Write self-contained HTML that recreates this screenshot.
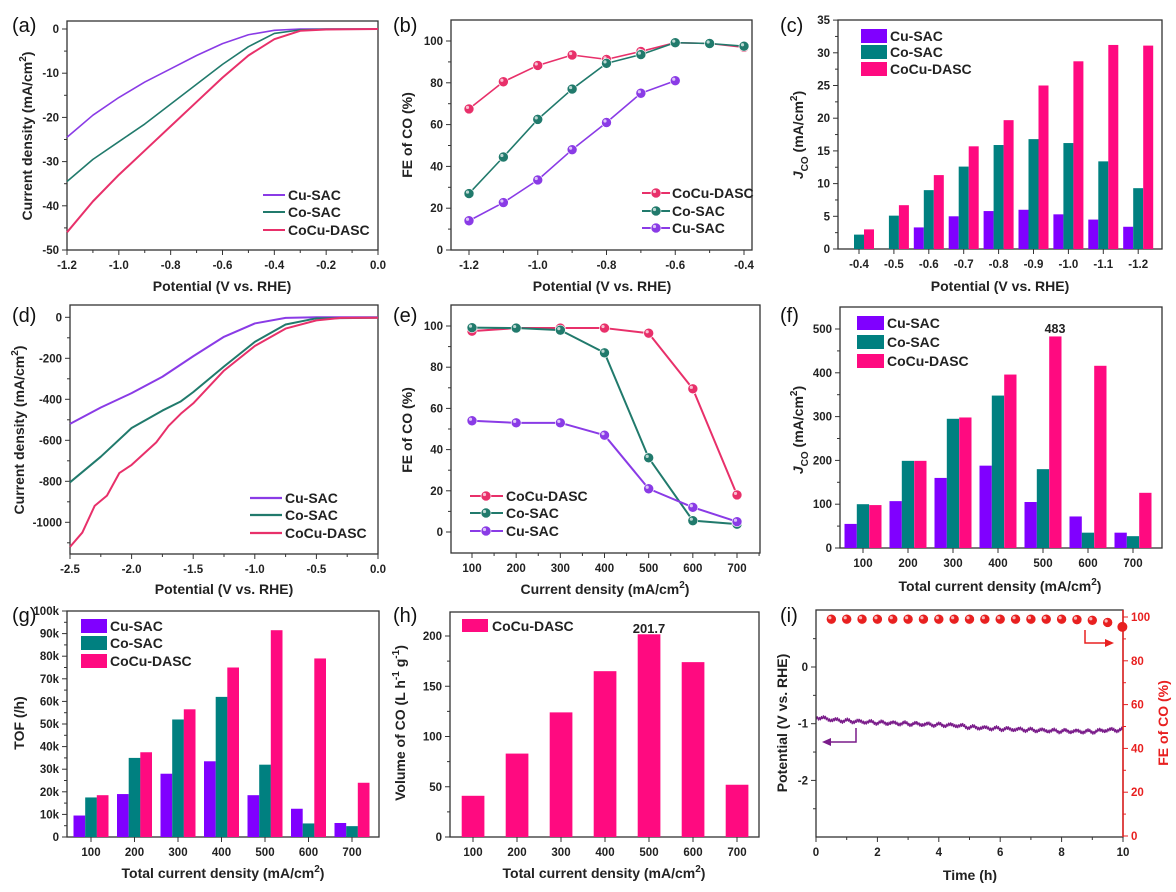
<!DOCTYPE html>
<html><head><meta charset="utf-8"><style>
body{margin:0;background:#fff}
svg{display:block}
.t{font:bold 11.5px "Liberation Sans",sans-serif;fill:#222}
.at{font:bold 14px "Liberation Sans",sans-serif;fill:#222}
.lg{font:bold 14px "Liberation Sans",sans-serif;fill:#222}
.pl{font:20px "Liberation Sans",sans-serif;fill:#111}
</style></head><body>
<svg id="s" xmlns="http://www.w3.org/2000/svg" width="1176" height="892" viewBox="0 0 1176 892"></svg>
<script>
const NS="http://www.w3.org/2000/svg";const S=document.getElementById('s');
function E(t,a,txt,p){const e=document.createElementNS(NS,t);for(const k in a)e.setAttribute(k,a[k]);if(txt!=null)e.textContent=txt;(p||S).appendChild(e);return e;}
const PU='#8a3be6',TE='#217a6c',PK='#e8306a';
const BPU='#8000ff',BTE='#008080',BPK='#ff0a80';
function frame(x0,y0,x1,y1){E('rect',{x:x0,y:y0,width:x1-x0,height:y1-y0,fill:'none',stroke:'#333','stroke-width':1.3});}
function xt(x,y,l,maj){E('line',{x1:x,y1:y,x2:x,y2:y+(maj?5:3),stroke:'#333'});if(l!=null)E('text',{x:x,y:y+19,'text-anchor':'middle',class:'t'},l);}
function yt(x,y,l,maj,col){E('line',{x1:x,y1:y,x2:x-(maj?5:3),y2:y,stroke:col||'#333'});if(l!=null)E('text',{x:x-8,y:y+4,'text-anchor':'end',class:'t',style:col?'fill:'+col:''},l);}
function ytR(x,y,l,maj,col){E('line',{x1:x,y1:y,x2:x+(maj?5:3),y2:y,stroke:col});if(l!=null)E('text',{x:x+8,y:y+4,class:'t',style:'fill:'+col},l);}
function xtitle(x,y,txt,sup){const t=E('text',{x:x,y:y,'text-anchor':'middle',class:'at'},txt);if(sup){E('tspan',{dy:-6,'font-size':10},'2',t);E('tspan',{dy:6},')',t);}}
function ytitle(x,y,parts,col){const t=E('text',{transform:`translate(${x},${y}) rotate(-90)`,'text-anchor':'middle',class:'at',style:col?'fill:'+col:''});parts.forEach(p=>{const a={};if(p.dy)a.dy=p.dy;if(p.fs)a['font-size']=p.fs;if(p.it)a['font-style']='italic';E('tspan',a,p.s,t);});}
function line(pts,col,w){E('polyline',{points:pts.map(p=>p.join(',')).join(' '),fill:'none',stroke:col,'stroke-width':w||1.6,'stroke-linejoin':'round'});}
function dots(pts,col){pts.forEach(p=>{E('circle',{cx:p[0],cy:p[1],r:5,fill:col,stroke:'#fff','stroke-width':0.6});E('circle',{cx:p[0]-1.5,cy:p[1]-1.5,r:1.6,fill:'#fff',opacity:0.7});});}
function lab(x,y,s){E('text',{x:x,y:y,class:'pl'},s);}
const JCO=[{s:'J',it:1},{s:'CO',fs:10,dy:5},{s:' (mA/cm',dy:-5},{s:'2',fs:10,dy:-6},{s:')',dy:6}];
const CD=[{s:'Current density (mA/cm'},{s:'2',fs:10,dy:-6},{s:')',dy:6}];

/* (a) */
lab(12,32,'(a)');frame(67,21,378,250);
{const X=p=>378+p*259.17,Y=v=>29-v*4.42;
[-1.2,-1.0,-0.8,-0.6,-0.4,-0.2,0].forEach(p=>xt(X(p),250,p.toFixed(1),1));
[-1.1,-0.9,-0.7,-0.5,-0.3,-0.1].forEach(p=>xt(X(p),250,null,0));
for(let v=0;v>=-50;v-=10)yt(67,Y(v),''+v,1);for(let v=-5;v>-50;v-=10)yt(67,Y(v),null,0);
xtitle(222,291,'Potential (V vs. RHE)');ytitle(32,136,CD);
const xs=[-1.2,-1.1,-1.0,-0.9,-0.8,-0.7,-0.6,-0.5,-0.4,-0.3,-0.2,0];
const cu=[-24.5,-19.5,-15.5,-12,-9,-6,-3.3,-1.3,-0.3,0,0,0],co=[-34.5,-29.5,-25.5,-21.5,-17,-12.5,-8,-4,-1,-0.2,0,0],cc=[-46,-39,-33,-27.5,-22,-16.5,-11,-6,-2.3,-0.4,-0.1,0];
line(xs.map((p,i)=>[X(p),Y(cu[i])]),PU);line(xs.map((p,i)=>[X(p),Y(co[i])]),TE);line(xs.map((p,i)=>[X(p),Y(cc[i])]),PK,2);
[['Cu-SAC',PU,195],['Co-SAC',TE,212],['CoCu-DASC',PK,230]].forEach(r=>{E('line',{x1:263,y1:r[2],x2:285,y2:r[2],stroke:r[1],'stroke-width':2});E('text',{x:288,y:r[2]+5,class:'lg'},r[0]);});}

/* (b) */
lab(393,32,'(b)');frame(451,20,752,250);
{const X=p=>469+(p+1.2)*343.75,Y=v=>250-v*2.09;
[-1.2,-1.0,-0.8,-0.6,-0.4].forEach(p=>xt(X(p),250,p.toFixed(1),1));[-1.1,-0.9,-0.7,-0.5].forEach(p=>xt(X(p),250,null,0));
for(let v=0;v<=100;v+=20)yt(451,Y(v),''+v,1);for(let v=10;v<=100;v+=20)yt(451,Y(v),null,0);
xtitle(602,291,'Potential (V vs. RHE)');ytitle(412,135,[{s:'FE of CO (%)'}]);
const xs=[-1.2,-1.1,-1.0,-0.9,-0.8,-0.7,-0.6,-0.5,-0.4];
const cc=[67.5,80.5,88.3,93.3,91.2,95,99.2,98.8,97],co=[27,44.5,62.5,77,89.3,93.5,99.2,98.8,97.5],cu=[14,22.7,33.5,48,61,75,81];
[[cc,PK],[co,TE],[cu,PU]].forEach(s=>{const pts=s[0].map((v,i)=>[X(xs[i]),Y(v)]);line(pts,s[1]);dots(pts,s[1]);});
[['CoCu-DASC',PK,193],['Co-SAC',TE,211],['Cu-SAC',PU,228]].forEach(r=>{E('line',{x1:642,y1:r[2],x2:670,y2:r[2],stroke:r[1],'stroke-width':2});dots([[656,r[2]]],r[1]);E('text',{x:672,y:r[2]+5,class:'lg'},r[0]);});}

/* (c) */
lab(780,32,'(c)');frame(838,20,1162,249);
{const Y=v=>249-v*6.54,C=i=>859+i*34.9;
const L=['-0.4','-0.5','-0.6','-0.7','-0.8','-0.9','-1.0','-1.1','-1.2'];
const cu=[0,0,3.3,5,5.8,6,5.3,4.5,3.4],co=[2.2,5.1,9,12.6,15.9,16.8,16.2,13.4,9.3],cc=[3,6.7,11.3,15.7,19.7,25,28.7,31.2,31.1];
L.forEach((l,i)=>{const c=C(i);xt(c,249,l,1);
[[cu,BPU,-15],[co,BTE,-5],[cc,BPK,5]].forEach(s=>{if(s[0][i]>0)E('rect',{x:c+s[2],y:Y(s[0][i]),width:10,height:249-Y(s[0][i]),fill:s[1]});});});
for(let v=0;v<=35;v+=5)yt(838,Y(v),''+v,1);for(let v=2.5;v<35;v+=5)yt(838,Y(v),null,0);
xtitle(1000,291,'Potential (V vs. RHE)');ytitle(803,135,JCO);
[['Cu-SAC',BPU,36],['Co-SAC',BTE,52],['CoCu-DASC',BPK,69]].forEach(r=>{E('rect',{x:861,y:r[2]-7,width:26,height:14,fill:r[1]});E('text',{x:890,y:r[2]+5,class:'lg'},r[0]);});}

/* (d) */
lab(12,322,'(d)');frame(70,305,378,554);
{const X=p=>70+(p+2.5)*123.2,Y=v=>317.3-v*0.205;
[-2.5,-2.0,-1.5,-1.0,-0.5,0].forEach(p=>xt(X(p),554,p.toFixed(1),1));[-2.25,-1.75,-1.25,-0.75,-0.25].forEach(p=>xt(X(p),554,null,0));
for(let v=0;v>=-1000;v-=200)yt(70,Y(v),''+v,1);for(let v=-100;v>-1150;v-=200)yt(70,Y(v),null,0);
xtitle(224,594,'Potential (V vs. RHE)');ytitle(24,430,CD);
line([[-2.5,-520],[-2.25,-440],[-2.0,-370],[-1.75,-290],[-1.5,-190],[-1.25,-95],[-1.0,-30],[-0.75,-3],[-0.5,0],[0,0]].map(p=>[X(p[0]),Y(p[1])]),PU,2);
line([[-2.5,-805],[-2.25,-680],[-2.0,-540],[-1.75,-455],[-1.6,-410],[-1.5,-365],[-1.25,-240],[-1.0,-120],[-0.75,-35],[-0.5,-5],[0,-2]].map(p=>[X(p[0]),Y(p[1])]),TE,2);
line([[-2.5,-1120],[-2.4,-1050],[-2.3,-920],[-2.2,-870],[-2.1,-760],[-2.0,-720],[-1.8,-610],[-1.7,-530],[-1.6,-470],[-1.5,-420],[-1.25,-260],[-1.0,-140],[-0.75,-55],[-0.5,-15],[-0.3,-3],[0,-2]].map(p=>[X(p[0]),Y(p[1])]),PK,2);
[['Cu-SAC',PU,498],['Co-SAC',TE,515],['CoCu-DASC',PK,533]].forEach(r=>{E('line',{x1:250,y1:r[2],x2:282,y2:r[2],stroke:r[1],'stroke-width':2.2});E('text',{x:285,y:r[2]+5,class:'lg'},r[0]);});}

/* (e) */
lab(393,322,'(e)');frame(451,305,760,553);
{const X=c=>472+(c-100)*0.44167,Y=v=>532-v*2.06;const xs=[100,200,300,400,500,600,700];
xs.forEach(c=>xt(X(c),553,''+c,1));[150,250,350,450,550,650,750].forEach(c=>{if(X(c)>451&&X(c)<760)xt(X(c),553,null,0);});
for(let v=0;v<=100;v+=20)yt(451,Y(v),''+v,1);for(let v=10;v<=100;v+=20)yt(451,Y(v),null,0);
const t=E('text',{x:605,y:594,'text-anchor':'middle',class:'at'},'Current density (mA/cm');E('tspan',{dy:-6,'font-size':10},'2',t);E('tspan',{dy:6},')',t);
ytitle(412,430,[{s:'FE of CO (%)'}]);
const cc=[97.5,99,99,99,96.5,69.5,18],co=[99.2,99,98,87,36,5.5,3.8],cu=[54,53,53,47,21,12,5];
[[cc,PK],[co,TE],[cu,PU]].forEach(s=>{const pts=s[0].map((v,i)=>[X(xs[i]),Y(v)]);line(pts,s[1],2);dots(pts,s[1]);});
[['CoCu-DASC',PK,496],['Co-SAC',TE,513],['Cu-SAC',PU,531]].forEach(r=>{E('line',{x1:470,y1:r[2],x2:503,y2:r[2],stroke:r[1],'stroke-width':2});dots([[486,r[2]]],r[1]);E('text',{x:506,y:r[2]+5,class:'lg'},r[0]);});}

/* (f) */
lab(780,322,'(f)');frame(840,307,1162,548);
{const Y=v=>548-v*0.438,C=i=>863+i*45;
const cu=[55,107,160,188,105,72,35],co=[100,199,295,348,180,35,27],cc=[98,199,298,396,483,416,126];
for(let i=0;i<7;i++){const c=C(i);xt(c,548,''+(100*(i+1)),1);
[[cu,BPU,-18.5],[co,BTE,-6.2],[cc,BPK,6.2]].forEach(s=>E('rect',{x:c+s[2],y:Y(s[0][i]),width:12.3,height:548-Y(s[0][i]),fill:s[1]}));}
E('text',{x:C(4)+12,y:333,'text-anchor':'middle',class:'t',style:'font-size:12.5px'},'483');
for(let v=0;v<=500;v+=100)yt(840,Y(v),''+v,1);for(let v=50;v<550;v+=100)yt(840,Y(v),null,0);
xtitle(1000,591,'Total current density (mA/cm',1);ytitle(803,430,JCO);
[['Cu-SAC',BPU,323],['Co-SAC',BTE,342],['CoCu-DASC',BPK,361]].forEach(r=>{E('rect',{x:857,y:r[2]-7,width:27,height:14,fill:r[1]});E('text',{x:887,y:r[2]+5,class:'lg'},r[0]);});}

/* (g) */
lab(12,622,'(g)');frame(67,611,379,837);
{const Y=v=>837-v*2.26,C=i=>91+i*43.5;
const cu=[9.5,19,28,33.5,18.5,12.5,6.2],co=[17.5,35,52,62,32,6,4.8],cc=[18.5,37.5,56.5,75,91.5,79,24];
for(let i=0;i<7;i++){const c=C(i);xt(c,837,''+(100*(i+1)),1);
[[cu,BPU,-17.5],[co,BTE,-5.8],[cc,BPK,5.8]].forEach(s=>E('rect',{x:c+s[2],y:Y(s[0][i]),width:11.7,height:837-Y(s[0][i]),fill:s[1]}));}
for(let v=0;v<=100;v+=10)yt(67,Y(v),v?v+'k':'0',1);for(let v=5;v<100;v+=10)yt(67,Y(v),null,0);
xtitle(223,878,'Total current density (mA/cm',1);ytitle(24,723,[{s:'TOF (/h)'}]);
[['Cu-SAC',BPU,626],['Co-SAC',BTE,643],['CoCu-DASC',BPK,661]].forEach(r=>{E('rect',{x:81,y:r[2]-7,width:26,height:14,fill:r[1]});E('text',{x:110,y:r[2]+5,class:'lg'},r[0]);});}

/* (h) */
lab(393,622,'(h)');frame(450,612,759,837);
{const Y=v=>837-v*1.005,C=i=>473+i*44;const d=[41,83,124,165,201.7,174,52];
d.forEach((v,i)=>{xt(C(i),837,''+(100*(i+1)),1);E('rect',{x:C(i)-11.3,y:Y(v),width:22.7,height:837-Y(v),fill:BPK});});
E('text',{x:C(4),y:633,'text-anchor':'middle',class:'t',style:'font-size:13px'},'201.7');
for(let v=0;v<=200;v+=50)yt(450,Y(v),''+v,1);for(let v=25;v<225;v+=50)yt(450,Y(v),null,0);
xtitle(604,878,'Total current density (mA/cm',1);
ytitle(405,723,[{s:'Volume of CO (L h'},{s:'-1',fs:10,dy:-6},{s:' g',dy:6},{s:'-1',fs:10,dy:-6},{s:')',dy:6}]);
E('rect',{x:462,y:619,width:26,height:13,fill:BPK});E('text',{x:492,y:631,class:'lg'},'CoCu-DASC');}

/* (i) */
lab(780,622,'(i)');
{const X=t=>816+t*30.7,YL=v=>667-v*56.7,YR=v=>836-v*2.19,RED='#e82020';
for(let t=0;t<=10;t+=2)xt(X(t),837,''+t,1);for(let t=1;t<10;t+=2)xt(X(t),837,null,0);
[0,-1,-2].forEach(v=>yt(816,YL(v),''+v,1));[0.5,-0.5,-1.5,-2.5].forEach(v=>yt(816,YL(v),null,0));
for(let v=0;v<=100;v+=20)ytR(1123,YR(v),''+v,1,RED);for(let v=10;v<100;v+=20)ytR(1123,YR(v),null,0,RED);
let pts=[];const base=[[0,-0.88],[0.5,-0.93],[1,-0.95],[2,-0.98],[3,-1.0],[4,-1.02],[4.6,-1.03],[5,-1.06],[6,-1.09],[7,-1.11],[8,-1.13],[9,-1.14],[9.5,-1.11],[10,-1.11]];
for(let t=0;t<=10;t+=0.02){let k=0;while(k<base.length-2&&base[k+1][0]<t)k++;const a=base[k],b=base[k+1];const v=a[1]+(b[1]-a[1])*(t-a[0])/(b[0]-a[0]);pts.push([X(t).toFixed(1),(YL(v)+(Math.sin(t*97)*1.6+Math.sin(t*331)*1.2)).toFixed(1)]);}
line(pts,'#7a1c8a',1.3);
E('rect',{x:816,y:610,width:307,height:227,fill:'none',stroke:'#333','stroke-width':1.3});
E('line',{x1:1123,y1:610,x2:1123,y2:837,stroke:RED,'stroke-width':1.5});
const fe=[99,99,99,99,99,99,99,99,99,99,99,99,99,99,99,99,98.8,98.5,97.5,96.5];
fe.forEach((v,i)=>{const t=0.5+i*0.5;if(t<10)dots([[X(t),YR(v)]],RED);});
E('circle',{cx:X(9.98),cy:YR(95.5),r:5,fill:RED});
E('polyline',{points:'856,728 856,742 828,742',fill:'none',stroke:'#7a1c8a','stroke-width':1.5});E('polygon',{points:'822,742 831,738 831,746',fill:'#7a1c8a'});
E('polyline',{points:'1085,630 1085,643 1107,643',fill:'none',stroke:RED,'stroke-width':1.5});E('polygon',{points:'1114,643 1105,639 1105,647',fill:RED});
xtitle(970,880,'Time (h)');ytitle(787,723,[{s:'Potential (V vs. RHE)'}]);
ytitle(1168,723,[{s:'FE of CO (%)'}],RED);}
</script>
</body></html>
